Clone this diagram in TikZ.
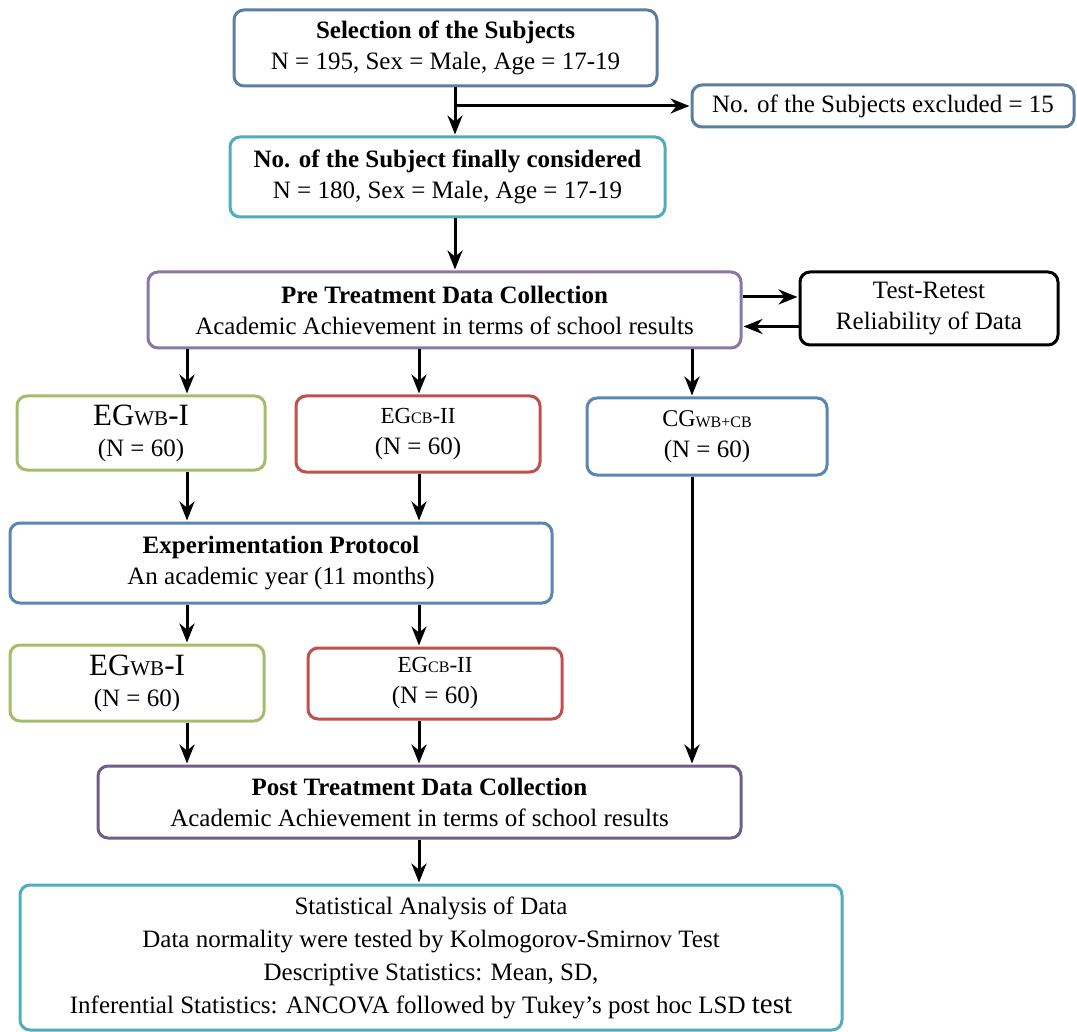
\documentclass[tikz,border=0pt]{standalone}
\usepackage{fontspec}
\setmainfont{Liberation Serif}
\usetikzlibrary{calc,arrows.meta}
\definecolor{selblue}{HTML}{5A7FA2}
\definecolor{tealc}{HTML}{4FAEBC}
\definecolor{purplec}{HTML}{8A76A8}
\definecolor{postpurple}{HTML}{6F5F88}
\definecolor{greenc}{HTML}{A3BD6A}
\definecolor{redc}{HTML}{C0504D}
\definecolor{bluec}{HTML}{5A86B4}
\tikzset{ b/.style = { rectangle % box
        , rounded corners = 10pt
        , draw
        , line width = 3pt
        , align = center
        , inner sep = 2pt
        , font = \fontsize{25}{31}\selectfont
        }
        }

\begin{document}
\begin{tikzpicture}[x=1pt, y=-1pt, shorten >=1pt,
        edge_style/.style={draw=black, line width=3pt, -{Stealth[length=19pt,width=15pt]}}]
        \useasboundingbox (0,0) rectangle (1077,1032);

        \node [b, draw=selblue, minimum width=423pt, minimum height=76pt](sel) at (445.5,48) {\textbf{Selection of the Subjects}\\N = 195, Sex = Male, Age = 17-19};
        \node [b, draw=selblue, minimum width=382pt, minimum height=42pt](excl) at (883,106) {No. of the Subjects excluded = 15};
        \node [b, draw=tealc, minimum width=435pt, minimum height=80pt](fin) at (447.5,177) {\textbf{No. of the Subject finally considered}\\N = 180, Sex = Male, Age = 17-19};
        \node [b, draw=purplec, minimum width=593pt, minimum height=76pt](pre) at (444.5,310) {\textbf{Pre Treatment Data Collection}\\Academic Achievement in terms of school results};
        \node [b, draw=black, minimum width=258pt, minimum height=73pt](trr) at (929,308.5) {Test-Retest\\Reliability of Data};
        \node [b, draw=greenc, minimum width=248pt, minimum height=74pt](eg1) at (141,433) {{\fontsize{31}{33}\selectfont EG}{\fontsize{21}{24}\selectfont WB}{\fontsize{31}{33}\selectfont -I}\\(N = 60)};
        \node [b, draw=redc, minimum width=244pt, minimum height=76pt](eg2) at (418,434) {{\fontsize{23}{26}\selectfont EG}{\fontsize{16}{18}\selectfont CB}{\fontsize{23}{26}\selectfont -II}\\(N = 60)};
        \node [b, draw=bluec, minimum width=240pt, minimum height=77pt](cg) at (707,436.5) {{\fontsize{24}{28}\selectfont CG}\raisebox{-1pt}{\fontsize{16}{20}\selectfont WB+CB}\\(N = 60)};
        \node [b, draw=bluec, minimum width=542pt, minimum height=80pt](exp) at (281,563) {\textbf{Experimentation Protocol}\\An academic year (11 months)};
        \node [b, draw=greenc, minimum width=254pt, minimum height=76pt](eg1b) at (137,683) {{\fontsize{31}{33}\selectfont EG}{\fontsize{21}{24}\selectfont WB}{\fontsize{31}{33}\selectfont -I}\\(N = 60)};
        \node [b, draw=redc, minimum width=254pt, minimum height=71pt](eg2b) at (435,683.5) {{\fontsize{23}{26}\selectfont EG}{\fontsize{16}{18}\selectfont CB}{\fontsize{23}{26}\selectfont -II}\\(N = 60)};
        \node [b, draw=postpurple, minimum width=643pt, minimum height=72pt](post) at (419.5,802) {\textbf{Post Treatment Data Collection}\\Academic Achievement in terms of school results};
        \node [b, draw=tealc, minimum width=822pt, minimum height=145pt, font=\fontsize{25}{33}\selectfont](stat) at (431,957.5) {Statistical Analysis of Data\\Data normality were tested by Kolmogorov-Smirnov Test\\Descriptive Statistics: Mean, SD,\\Inferential Statistics: ANCOVA followed by Tukey's post hoc LSD {\fontsize{29}{33}\selectfont test}};

        \coordinate (c0) at (455,0);
        \coordinate (c1) at (187,0);
        \coordinate (c2) at (419,0);
        \coordinate (c3) at (692,0);
        \coordinate (j1) at (455,106);

        \draw [edge_style] (sel.south -| c0) -- (fin.north -| c0);
        \draw [edge_style] (j1) -- (excl.west);
        \draw [edge_style] (fin.south -| c0) -- (pre.north -| c0);
        \draw [edge_style] ([yshift=13pt]pre.east) -- ([yshift=13pt]pre.east -| trr.west);
        \draw [edge_style] ([yshift=-18pt]trr.west) -- ([yshift=-18pt]trr.west -| pre.east);
        \draw [edge_style] (pre.south -| c1) -- (eg1.north -| c1);
        \draw [edge_style] (pre.south -| c2) -- (eg2.north -| c2);
        \draw [edge_style] (pre.south -| c3) -- (cg.north -| c3);
        \draw [edge_style] (eg1.south -| c1) -- (exp.north -| c1);
        \draw [edge_style] (eg2.south -| c2) -- (exp.north -| c2);
        \draw [edge_style] (exp.south -| c1) -- (eg1b.north -| c1);
        \draw [edge_style] (exp.south -| c2) -- (eg2b.north -| c2);
        \draw [edge_style] (eg1b.south -| c1) -- (post.north -| c1);
        \draw [edge_style] (eg2b.south -| c2) -- (post.north -| c2);
        \draw [edge_style] (cg.south -| c3) -- (post.north -| c3);
        \draw [edge_style] (post.south -| c2) -- (stat.north -| c2);

\end{tikzpicture}
\end{document}
